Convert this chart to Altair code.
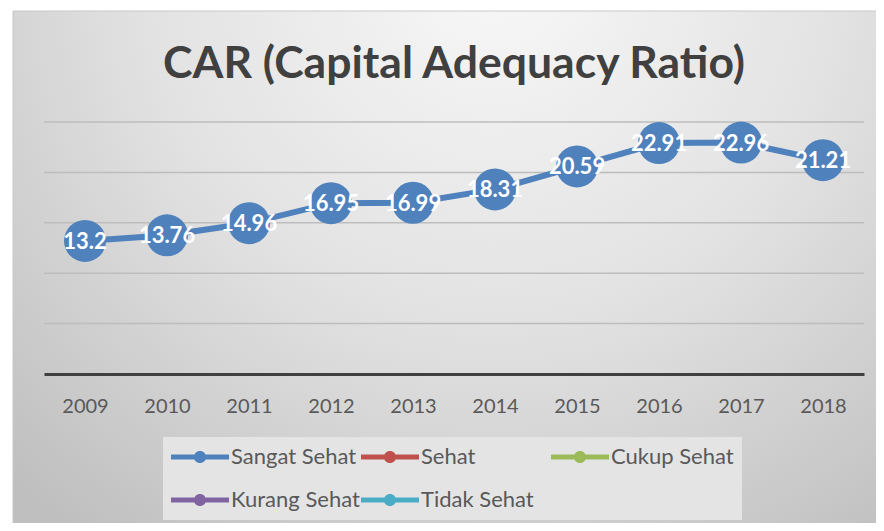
import altair as alt
import pandas as pd

# ---- data ----
years = ["2009", "2010", "2011", "2012", "2013", "2014", "2015", "2016", "2017", "2018"]
car_values = [13.2, 13.76, 14.96, 16.95, 16.99, 18.31, 20.59, 22.91, 22.96, 21.21]
series_names = ["Sangat Sehat", "Sehat", "Cukup Sehat", "Kurang Sehat", "Tidak Sehat"]
series_colors = ["#4f81bd", "#c0504d", "#9bbb59", "#8064a2", "#4bacc6"]
grid_values = [5, 10, 15, 20, 25]
title_text = "CAR (Capital Adequacy Ratio)"

df = pd.DataFrame({"year": years, "car": car_values, "series": series_names[0]})
grid_df = pd.DataFrame({"g": grid_values})

W, H = 820, 252
y_scale = alt.Scale(domain=[0, 25], nice=False, zero=True)

x_enc = alt.X(
    "year:O",
    sort=years,
    axis=alt.Axis(
        title=None, labelAngle=0, ticks=False, labelPadding=22,
        domainColor="#404040", domainWidth=3, grid=False,
        labelFont="Lato", labelFontSize=20, labelColor="#595959", zindex=1,
    ),
)
y_enc = alt.Y("car:Q", scale=y_scale, axis=None)

frame = alt.Chart(alt.Data(values=[{}])).mark_rect(
    fill=alt.RadialGradient(
        gradient="radial",
        stops=[
            alt.GradientStop(color="#f8f8f8", offset=0),
            alt.GradientStop(color="#e2e2e2", offset=0.5),
            alt.GradientStop(color="#bfbfbf", offset=1),
        ],
        x1=0.55, y1=0.15, r1=0, x2=0.55, y2=0.15, r2=0.8,
    ),
    stroke="#c8c8c8", strokeWidth=1,
).encode(x=alt.value(-31), x2=alt.value(845), y=alt.value(-111), y2=alt.value(420))

grid = alt.Chart(grid_df).mark_rule(color="#bdbdbd", strokeWidth=1.5).encode(
    y=alt.Y("g:Q", scale=y_scale, axis=None),
    x=alt.value(0), x2=alt.value(W),
)

line = alt.Chart(df).mark_line(color="#4f81bd", strokeWidth=6).encode(x=x_enc, y=y_enc)

legend_path = ("M-1,-0.09H1V0.09H-1Z "
               "M0.21,0A0.21,0.21 0 1,1 -0.21,0A0.21,0.21 0 1,1 0.21,0Z")

points = alt.Chart(df).mark_circle(size=1764, opacity=1).encode(
    x=x_enc, y=y_enc,
    color=alt.Color(
        "series:N",
        scale=alt.Scale(domain=series_names, range=series_colors),
        legend=alt.Legend(
            title=None, orient="none", legendX=119, legendY=315,
            direction="horizontal", columns=3, gridAlign="all",
            columnPadding=1, rowPadding=19,
            symbolType=legend_path, symbolSize=3364, symbolStrokeWidth=0,
            symbolOpacity=1, clipHeight=24,
            labelFont="Lato", labelFontSize=22, labelColor="#595959",
            labelOffset=2, fillColor="#e4e4e4", padding=8,
        ),
    ),
)

labels = alt.Chart(df).mark_text(
    color="white", font="Lato", fontWeight="bold", fontSize=22,
    align="center", baseline="middle", dy=1,
).encode(x=x_enc, y=y_enc, text=alt.Text("car:Q"))

title = alt.Chart(alt.Data(values=[{"t": title_text}])).mark_text(
    font="Lato", fontWeight="bold", fontSize=44.5, color="#404040",
    align="center", baseline="alphabetic",
).encode(x=alt.value(W / 2), y=alt.value(-44), text="t:N")

chart = alt.layer(frame, grid, line, points, labels, title).properties(
    width=W, height=H,
    autosize=alt.AutoSizeParams(type="none"),
    padding={"left": 36, "top": 114, "right": 12, "bottom": 149},
    background="white",
).configure_view(stroke=None)

chart.save("out.html", embed_options={"renderer": "svg", "actions": False})
